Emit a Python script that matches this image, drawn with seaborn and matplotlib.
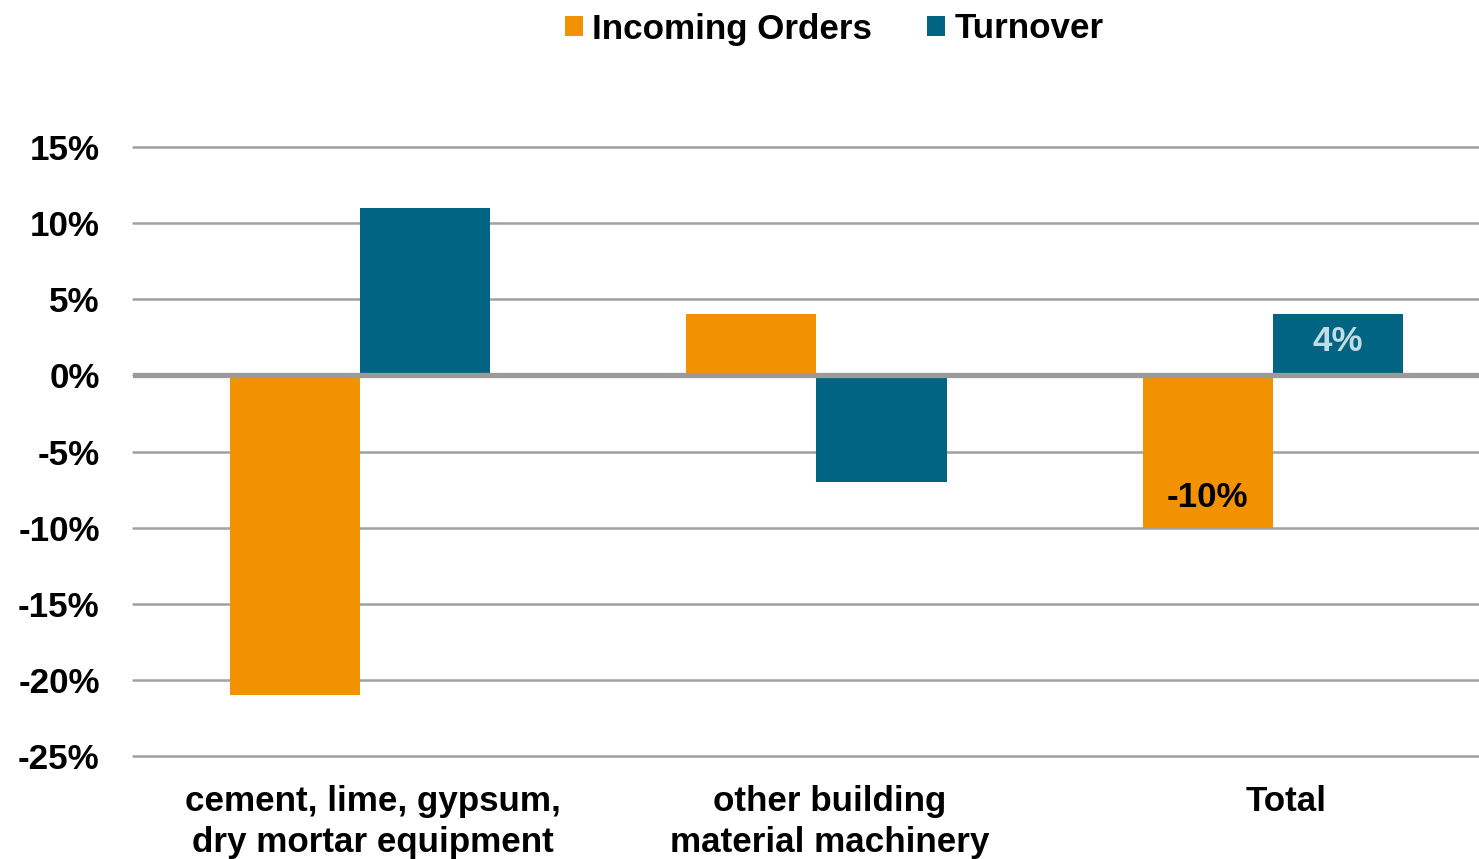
import numpy as np
import pandas as pd
import matplotlib
matplotlib.use("Agg")
import matplotlib.pyplot as plt
import matplotlib.transforms as mtransforms
from matplotlib.patches import Patch
import seaborn as sns

# data
categories = ["cement, lime, gypsum,\ndry mortar equipment",
              "other building\nmaterial machinery",
              "Total"]
series = ["Incoming Orders", "Turnover"]
incoming_orders = [-21, 4, -10]
turnover = [11, -7, 4]
yticks = [15, 10, 5, 0, -5, -10, -15, -20, -25]

# labels shown only on the Total group
labels = {("Total", "Incoming Orders"): "-10%", ("Total", "Turnover"): "4%"}

colors = ["#F39200", "#006482"]
label_colors = {"Incoming Orders": "black", "Turnover": "#c3dbe4"}

df = pd.DataFrame({
    "category": categories * 2,
    "series": [series[0]] * 3 + [series[1]] * 3,
    "value": incoming_orders + turnover,
})

sns.set_theme(style="white")
plt.rcParams["font.family"] = ["Liberation Sans", "DejaVu Sans"]
plt.rcParams["font.weight"] = "bold"
plt.rcParams["text.color"] = "black"
plt.rcParams["xtick.color"] = "black"
plt.rcParams["ytick.color"] = "black"

fs = 25.2

fig = plt.figure(figsize=(14.79, 8.59), dpi=100)
ax = fig.add_axes([133 / 1479, 1 - 756 / 859, 1 - 133 / 1479, (756 - 147) / 859])

sns.barplot(data=df, x="category", y="value", hue="series", order=categories,
            hue_order=series, palette=colors, width=0.57, saturation=1,
            ax=ax, legend=False, zorder=2, edgecolor="none", linewidth=0)

ax.set_xlim(-0.498, 2.452)
ax.set_ylim(-25, 15)
ax.set_yticks(yticks)
ax.set_yticklabels([f"{v}%" for v in yticks], fontsize=fs, fontweight="bold", color="black")
ax.tick_params(axis="y", length=0, pad=24)
ax.tick_params(axis="x", length=0, pad=21)
for t in ax.get_xticklabels():
    t.set_fontsize(fs)
    t.set_fontweight("bold")
    t.set_color("black")
    t.set_linespacing(1.32)
    t.set_transform(t.get_transform() + mtransforms.ScaledTranslation(0.13, 0, fig.dpi_scale_trans))
ax.set_xlabel("")
ax.set_ylabel("")
for s in ax.spines.values():
    s.set_visible(False)

ax.yaxis.grid(True, color="#a0a0a0", linewidth=1.8, zorder=0)
for gl in ax.get_ygridlines():
    gl.set_clip_on(False)
ax.set_axisbelow(True)
ax.axhline(0, color="#9a9a9a", linewidth=3.8, zorder=3)

# value labels inside the bar ends
for cont, name in zip(ax.containers, series):
    for bar, cat in zip(cont, categories):
        key = (cat, name)
        if key not in labels:
            continue
        h = bar.get_height()
        x = bar.get_x() + bar.get_width() / 2
        y = h + (2.0 if h < 0 else -1.75)
        ax.text(x, y, labels[key], ha="center", va="center", fontsize=fs,
                fontweight="bold", color=label_colors[name], zorder=4)

handles = [Patch(facecolor=c, edgecolor="none", label=n) for c, n in zip(colors, series)]
fig.legend(handles=handles, loc="center", bbox_to_anchor=(834 / 1479, 1 - 29 / 859),
           ncol=2, frameon=False, prop={"size": fs, "weight": "bold"},
           handlelength=0.52, handleheight=0.52, handletextpad=0.27,
           columnspacing=1.55, borderaxespad=0)

fig.savefig("out.png", dpi=100)
